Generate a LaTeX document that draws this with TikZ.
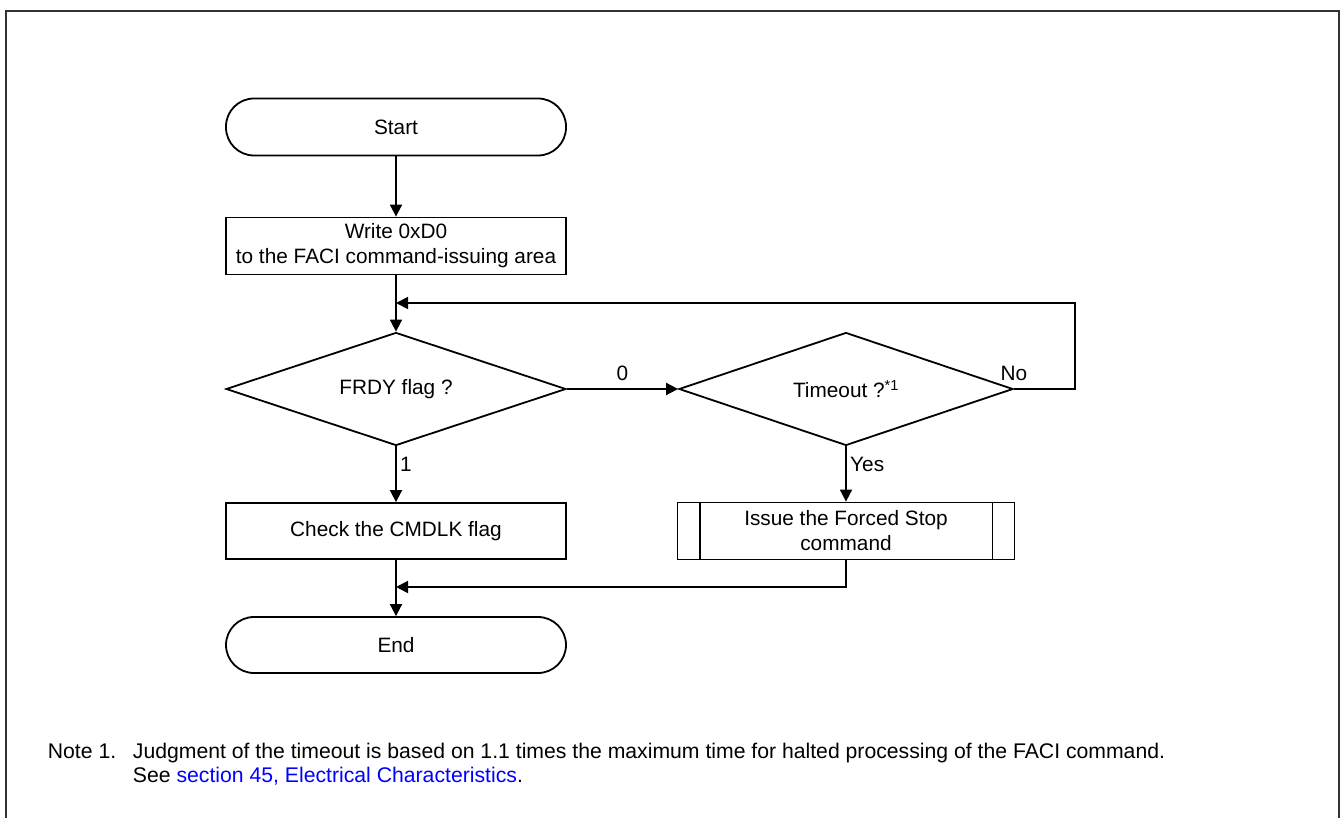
\documentclass[tikz,border=0pt]{standalone}
\usepackage{fontspec}
\setmainfont{Liberation Sans}
\usetikzlibrary{shapes.geometric,arrows.meta}
\definecolor{notelink}{RGB}{0,0,255}
\begin{document}
\begin{tikzpicture}[x=1pt,y=-1pt,line width=1.8pt,
    font=\fontsize{20.8}{25}\selectfont,
    terminal/.style={draw,rounded corners=28pt,minimum width=340pt,minimum height=57pt},
    procbox/.style={draw,align=center,inner sep=0pt,minimum width=340pt,minimum height=57pt},
    decision/.style={draw,diamond,aspect=3,inner sep=0pt,minimum width=340pt,minimum height=113pt},
    flow/.style={-{Triangle[length=12pt,width=12pt]}}]
\useasboundingbox (0,0) rectangle (1343,818);
\draw[black!80,line width=2pt] (6,818)--(6,11)--(1339,11)--(1339,818);
\node[terminal] (start) at (396,127) {Start};
\node[procbox] (write) at (396,246) {Write 0xD0\\to the FACI command-issuing area};
\node[decision] (frdy) at (396,389) {FRDY flag ?};
\node[decision,minimum width=334pt] (timeout) at (846,389) {Timeout ?\textsuperscript{*1}};
\node[procbox,minimum height=56pt] (check) at (396,531) {Check the CMDLK flag};
\node[procbox,minimum width=337pt] (issue) at (846,531) {Issue the Forced Stop\\command};
\draw ([xshift=23pt]issue.north west)--([xshift=23pt]issue.south west);
\draw ([xshift=-23pt]issue.north east)--([xshift=-23pt]issue.south east);
\node[terminal,minimum height=56pt] (end) at (396,645) {End};
\coordinate (looptop) at (396,303);
\coordinate (noturn) at (1075,303);
\coordinate (merge) at (396,587);
\draw[flow] (start)--(write);
\draw[flow] (write)--(frdy);
\draw[flow] (frdy)--node[above,yshift=4pt]{0}(timeout);
\draw[flow] (timeout.east)node[above,yshift=4pt]{No}-|(noturn)--(looptop);
\draw[flow] (frdy)--node[right,pos=0.33]{1}(check);
\draw[flow] (timeout)--node[right,pos=0.33]{Yes}(issue);
\draw[flow] (check)--(end);
\draw[flow] (issue.south)|-(merge);
\begin{scope}[font=\fontsize{21.2}{25}\selectfont]
\node[anchor=base west,inner sep=0pt] (note) at (47,758) {Note 1.};
\node[anchor=base west,inner sep=0pt] (notetext) at (132,758) {Judgment of the timeout is based on 1.1 times the maximum time for halted processing of the FACI command.};
\node[anchor=base west,inner sep=0pt] (notesee) at (132,782) {See \textcolor{notelink}{section 45, Electrical Characteristics}.};
\end{scope}
\end{tikzpicture}
\end{document}
